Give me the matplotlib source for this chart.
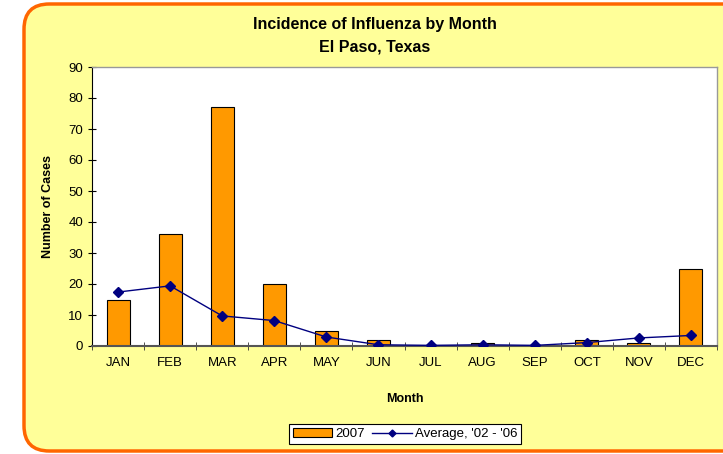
import matplotlib
matplotlib.use('Agg')
import matplotlib.pyplot as plt
from matplotlib.patches import FancyBboxPatch
import numpy as np

months = ['JAN', 'FEB', 'MAR', 'APR', 'MAY', 'JUN', 'JUL', 'AUG', 'SEP', 'OCT', 'NOV', 'DEC']
cases_2007 = [15, 36, 77, 20, 5, 2, 0, 1, 0, 2, 1, 25]
avg_02_06 = [17.4, 19.4, 9.7, 8.2, 2.9, 0.4, 0.2, 0.4, 0.2, 1.1, 2.6, 3.4]

plt.rcParams['font.family'] = ['Liberation Sans', 'DejaVu Sans']

fig = plt.figure(figsize=(7.23, 4.54), dpi=100)
fig.patch.set_facecolor('white')

# yellow rounded box with orange border
box = FancyBboxPatch((24 / 723, 3 / 454), 740 / 723, 447 / 454,
                     boxstyle='round,pad=0,rounding_size=0.035',
                     transform=fig.transFigure, facecolor='#FFFF99',
                     edgecolor='#FF6600', linewidth=2.5, zorder=-5,
                     mutation_aspect=723 / 454)
fig.patches.append(box)

ax = fig.add_axes([92 / 723, 1 - 346 / 454, 625 / 723, 279 / 454])
ax.set_zorder(2)
ax.set_facecolor('white')

x = np.arange(len(months))
bars = ax.bar(x, cases_2007, width=0.44, color='#FF9900', edgecolor='black',
              linewidth=0.8, label='2007', zorder=2)
line, = ax.plot(x, avg_02_06, color='#000080', linewidth=1, marker='D',
                markersize=5, label="Average, '02 - '06", zorder=3)

ax.set_xlim(-0.5, 11.5)
ax.set_ylim(0, 90)
ax.set_yticks(range(0, 91, 10))
ax.set_xticks(x)
ax.set_xticklabels(months)
ax.set_xticks(np.arange(-0.5, 12, 1), minor=True)
ax.tick_params(axis='x', which='major', length=0, pad=8, labelsize=9.5)
ax.tick_params(axis='x', which='minor', length=6, direction='inout', color='#333333')
ax.tick_params(axis='y', length=6, direction='inout', labelsize=9.5)

for s in ['top', 'right']:
    ax.spines[s].set_color('#999999')
    ax.spines[s].set_linewidth(1)
ax.spines['left'].set_color('black')
ax.spines['bottom'].set_color('#555555')
ax.spines['bottom'].set_linewidth(1.5)

ax.set_xlabel('Month', fontsize=9, fontweight='bold', labelpad=17)
ax.set_ylabel('Number of Cases', fontsize=9, fontweight='bold', labelpad=10)

fig.text(375 / 723, 1 - 25 / 454, 'Incidence of Influenza by Month',
         ha='center', va='center', fontsize=11.5, fontweight='bold')
fig.text(375 / 723, 1 - 47 / 454, 'El Paso, Texas',
         ha='center', va='center', fontsize=11.5, fontweight='bold')

leg = fig.legend(handles=[bars, line], loc='center',
                 bbox_to_anchor=(405 / 723, 1 - 434 / 454),
                 ncol=2, fontsize=9.5, frameon=True, fancybox=False,
                 edgecolor='black', framealpha=1, handlelength=3,
                 markerscale=0.7, handletextpad=0.2, columnspacing=0.6,
                 borderpad=0.3)
leg.get_frame().set_linewidth(0.8)

fig.savefig('out.png', dpi=100, facecolor=fig.get_facecolor())
